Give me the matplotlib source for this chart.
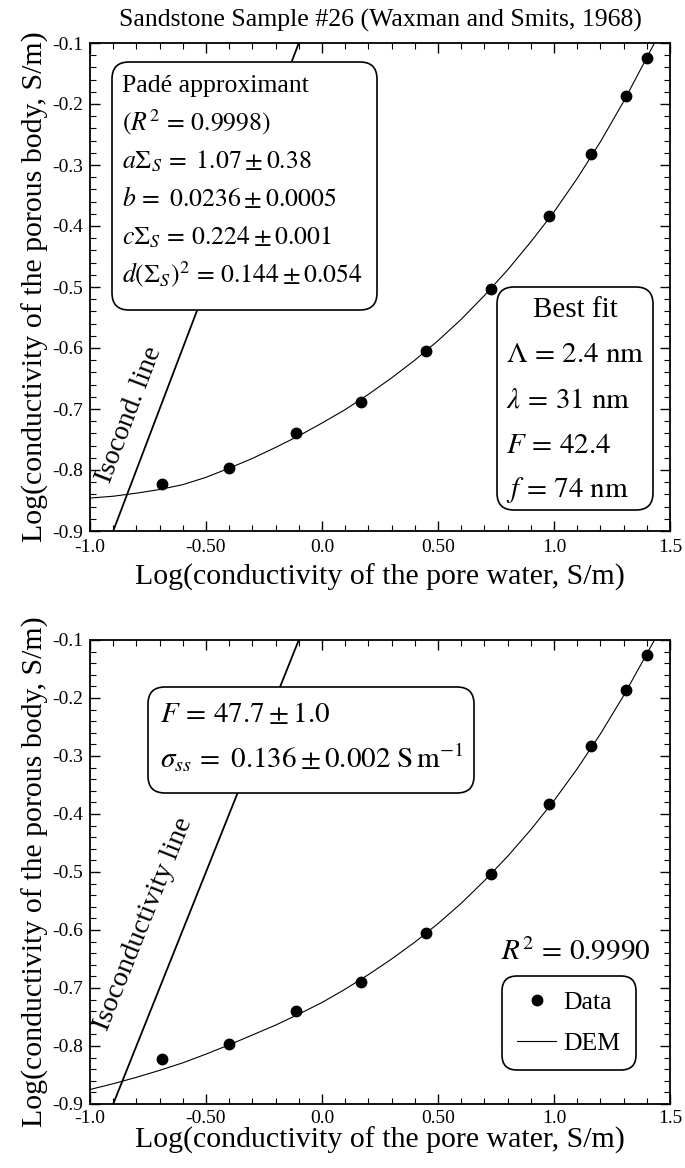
import numpy as np
import matplotlib
matplotlib.use('Agg')
import matplotlib.pyplot as plt
from matplotlib.patches import FancyBboxPatch
from matplotlib.ticker import MultipleLocator

plt.rcParams['font.family'] = 'serif'
plt.rcParams['font.serif'] = ['Liberation Serif', 'DejaVu Serif']
plt.rcParams['mathtext.fontset'] = 'stix'

# measured points, log10 of conductivity (S/m)
log_sw = [-0.69, -0.40, -0.11, 0.17, 0.45, 0.73, 0.98, 1.16, 1.31, 1.40]
log_s = [-0.823, -0.796, -0.739, -0.689, -0.605, -0.503, -0.383, -0.282, -0.187, -0.125]

# fitted curves
curve_x = [-1.0, -0.9, -0.8, -0.7, -0.6, -0.5, -0.4, -0.3, -0.2, -0.1, 0.0, 0.1, 0.2,
           0.3, 0.4, 0.5, 0.6, 0.7, 0.8, 0.9, 1.0, 1.1, 1.2, 1.3, 1.4, 1.44]
pade_y = [-0.846, -0.843, -0.838, -0.832, -0.824, -0.812, -0.797, -0.781, -0.763,
          -0.744, -0.723, -0.701, -0.676, -0.649, -0.620, -0.588, -0.553, -0.514,
          -0.472, -0.426, -0.377, -0.322, -0.262, -0.196, -0.124, -0.095]
dem_y = [-0.875, -0.865, -0.854, -0.842, -0.829, -0.814, -0.798, -0.781, -0.764,
         -0.745, -0.725, -0.702, -0.677, -0.650, -0.621, -0.589, -0.554, -0.515,
         -0.473, -0.427, -0.377, -0.322, -0.262, -0.196, -0.124, -0.095]

# isoconductivity line (sigma = sigma_w)
iso_x = [-0.9, -0.1]
iso_y = [-0.9, -0.1]

xticks = [-1.0, -0.5, 0.0, 0.5, 1.0, 1.5]
xtick_labels = ['-1.0', '-0.50', '0.0', '0.50', '1.0', '1.5']
yticks = [-0.9, -0.8, -0.7, -0.6, -0.5, -0.4, -0.3, -0.2, -0.1]
ytick_labels = ['-0.9', '-0.8', '-0.7', '-0.6', '-0.5', '-0.4', '-0.3', '-0.2', '-0.1']

pade_lines = ['Padé approximant',
              r'$(R^2\,=\,0.9998)$',
              r'$a\Sigma_S\,=\ 1.07 \pm 0.38$',
              r'$b\,=\ 0.0236 \pm 0.0005$',
              r'$c\Sigma_S\,=\,0.224 \pm 0.001$',
              r'$d(\Sigma_S)^2\,=\,0.144 \pm 0.054$']
best_lines = [r'$\Lambda\,=\,2.4\ \mathrm{nm}$',
              r'$\lambda\,=\,31\ \mathrm{nm}$',
              r'$F\,=\,42.4$',
              r'$f\,=\,74\ \mathrm{nm}$']
dem_lines = [r'$F\,=\,47.7 \pm 1.0$',
             r'$\sigma_{ss}\,=\ 0.136 \pm 0.002\ \mathrm{S\,m^{-1}}$']

W, H = 685, 1168
fig = plt.figure(figsize=(W / 100, H / 100), dpi=100)


def fxy(x, y):
    # image pixel -> figure fraction
    return x / W, 1 - y / H


def box(x0, y0, x1, y1, r=0.17):
    p = FancyBboxPatch((x0 / 100, (H - y1) / 100), (x1 - x0) / 100, (y1 - y0) / 100,
                       boxstyle=f'round,pad=0,rounding_size={r}',
                       transform=fig.dpi_scale_trans, facecolor='white',
                       edgecolor='black', linewidth=1.2, zorder=2)
    fig.add_artist(p)


def style_axes(ax, tickpad, xlabelpad):
    ax.set_xlim(-1.0, 1.5)
    ax.set_ylim(-0.9, -0.1)
    ax.set_xticks(xticks)
    ax.set_xticklabels(xtick_labels)
    ax.set_yticks(yticks)
    ax.set_yticklabels(ytick_labels)
    ax.xaxis.set_minor_locator(MultipleLocator(0.1))
    ax.yaxis.set_minor_locator(MultipleLocator(0.02))
    ax.tick_params(which='both', direction='in', top=True, right=True, labelsize=14)
    ax.tick_params(axis='x', pad=tickpad)
    ax.tick_params(axis='y', pad=5)
    ax.tick_params(which='major', length=7, width=1.0)
    ax.tick_params(which='minor', length=4, width=0.8)
    for s in ax.spines.values():
        s.set_linewidth(1.3)
    ax.set_xlabel('Log(conductivity of the pore water, S/m)', fontsize=21.5, labelpad=xlabelpad)
    ax.set_ylabel('Log(conductivity of the porous body, S/m)', fontsize=21.5, labelpad=2)


def line_angle(ax):
    p1 = ax.transData.transform((iso_x[0], iso_y[0]))
    p2 = ax.transData.transform((iso_x[1], iso_y[1]))
    return np.degrees(np.arctan2(p2[1] - p1[1], p2[0] - p1[0]))


# ---------------- top panel: Padé approximant ----------------
ax1 = fig.add_axes([90 / W, 1 - 531 / H, 580 / W, 488 / H])
ax1.plot(curve_x, pade_y, color='black', linewidth=0.8)
ax1.plot(iso_x, iso_y, color='black', linewidth=1.3)
ax1.plot(log_sw, log_s, 'o', color='black', markersize=7.5)
style_axes(ax1, 6, 5)
ax1.text(-0.83, -0.71, 'Isocond. line', fontsize=20, rotation=line_angle(ax1),
         ha='center', va='center', rotation_mode='anchor')

fig.text(*fxy(380, 20), 'Sandstone Sample #26 (Waxman and Smits, 1968)',
         fontsize=18.5, ha='center', va='center')

box(112, 62, 377, 310)
for txt, yb in zip(pade_lines, [92, 130, 168, 206, 244, 282]):
    fig.text(*fxy(122, yb), txt, fontsize=18.5, ha='left', va='baseline', zorder=3)

box(497, 287, 653, 510)
fig.text(*fxy(575, 317), 'Best fit', fontsize=21, ha='center', va='baseline', zorder=3)
for txt, yb in zip(best_lines, [362, 407, 453, 497]):
    fig.text(*fxy(506, yb), txt, fontsize=21, ha='left', va='baseline', zorder=3)

# ---------------- bottom panel: DEM ----------------
ax2 = fig.add_axes([90 / W, 1 - 1104 / H, 580 / W, 464 / H])
ax2.plot(curve_x, dem_y, color='black', linewidth=0.8, label='DEM')
ax2.plot(iso_x, iso_y, color='black', linewidth=1.3)
ax2.plot(log_sw, log_s, 'o', color='black', markersize=7.5, label='Data')
style_axes(ax2, 4, 0)
ax2.text(-0.77, -0.59, 'Isoconductivity line', fontsize=20.5, rotation=line_angle(ax2),
         ha='center', va='center', rotation_mode='anchor')

box(148, 687, 474, 793)
for txt, yb in zip(dem_lines, [722, 768]):
    fig.text(*fxy(160, yb), txt, fontsize=21, ha='left', va='baseline', zorder=3)

fig.text(*fxy(576, 960), r'$R^2\,=\,0.9990$', fontsize=21, ha='center', va='baseline')

handles, labels = ax2.get_legend_handles_labels()
leg = ax2.legend(handles[::-1], labels[::-1], loc='center',
                 bbox_to_anchor=fxy(569, 1023), bbox_transform=fig.transFigure,
                 fontsize=18.5, frameon=True, fancybox=True, framealpha=1,
                 edgecolor='black', handlelength=1.5, handletextpad=0.3,
                 labelspacing=0.7, borderpad=0.6)
leg.get_frame().set_linewidth(1.2)
leg.get_frame().set_boxstyle('round', pad=0, rounding_size=0.6)

fig.savefig('out.png', dpi=100)
